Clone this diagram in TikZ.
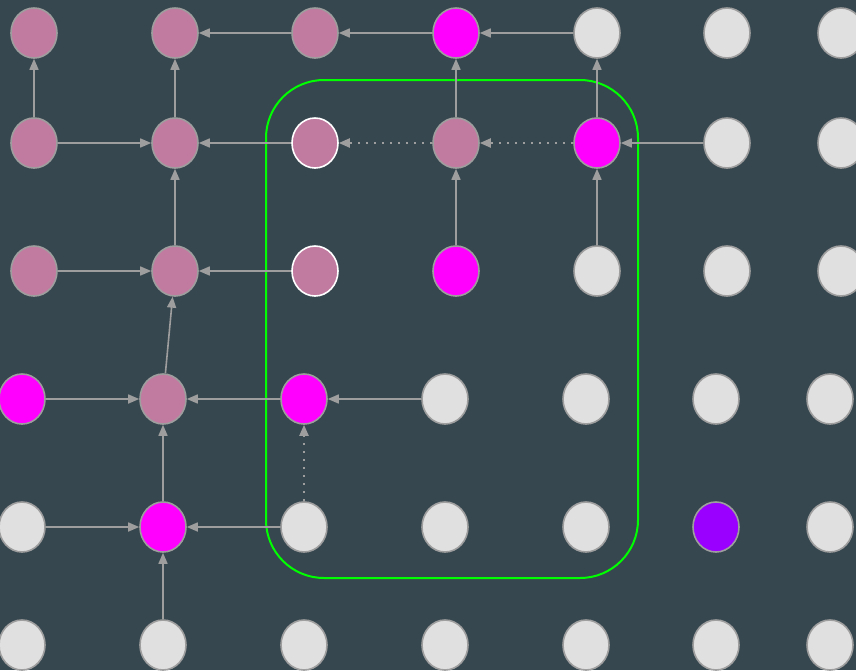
\documentclass[tikz,border=0pt]{standalone}
\usetikzlibrary{shapes.geometric,arrows.meta}
\definecolor{bg}{HTML}{37474F}
\definecolor{pinkn}{HTML}{C27BA0}
\definecolor{magn}{HTML}{FF00FF}
\definecolor{lightn}{HTML}{E0E0E0}
\definecolor{purpn}{HTML}{9900FF}
\definecolor{edgec}{HTML}{9E9E9E}
\definecolor{greenc}{HTML}{00FF00}
\tikzset{
  dot/.style={ellipse,minimum width=46pt,minimum height=50pt,inner sep=0pt,draw=edgec,line width=1.6pt},
  pk/.style={dot,fill=pinkn},
  pkw/.style={dot,fill=pinkn,draw=white},
  mg/.style={dot,fill=magn},
  lt/.style={dot,fill=lightn},
  pu/.style={dot,fill=purpn},
  conn/.style={draw=edgec,line width=1.6pt,-{Triangle[length=11pt,width=9pt]}},
  dconn/.style={conn,line width=2.2pt,dash pattern=on 2.2pt off 5.8pt},
}
\begin{document}
\begin{tikzpicture}[x=1pt,y=-1pt]
\fill[bg] (0,0) rectangle (856,670);
\useasboundingbox (0,0) rectangle (856,670);
\clip (0,0) rectangle (856,670);
% row 1
\node[pk] (a1) at (34,33) {};
\node[pk] (a2) at (175,33) {};
\node[pk] (a3) at (315,33) {};
\node[mg] (a4) at (456,33) {};
\node[lt] (a5) at (597,33) {};
\node[lt] (a6) at (727,33) {};
\node[lt] (a7) at (841,33) {};
% row 2
\node[pk] (b1) at (34,143) {};
\node[pk] (b2) at (175,143) {};
\node[pkw] (b3) at (315,143) {};
\node[pk] (b4) at (456,143) {};
\node[mg] (b5) at (597,143) {};
\node[lt] (b6) at (727,143) {};
\node[lt] (b7) at (841,143) {};
% row 3
\node[pk] (c1) at (34,271) {};
\node[pk] (c2) at (175,271) {};
\node[pkw] (c3) at (315,271) {};
\node[mg] (c4) at (456,271) {};
\node[lt] (c5) at (597,271) {};
\node[lt] (c6) at (727,271) {};
\node[lt] (c7) at (841,271) {};
% row 4
\node[mg] (d1) at (22,399) {};
\node[pk] (d2) at (163,399) {};
\node[mg] (d3) at (304,399) {};
\node[lt] (d4) at (445,399) {};
\node[lt] (d5) at (586,399) {};
\node[lt] (d6) at (716,399) {};
\node[lt] (d7) at (830,399) {};
% row 5
\node[lt] (e1) at (22,527) {};
\node[mg] (e2) at (163,527) {};
\node[lt] (e3) at (304,527) {};
\node[lt] (e4) at (445,527) {};
\node[lt] (e5) at (586,527) {};
\node[pu] (e6) at (716,527) {};
\node[lt] (e7) at (830,527) {};
% row 6
\node[lt] (f1) at (22,645) {};
\node[lt] (f2) at (163,645) {};
\node[lt] (f3) at (304,645) {};
\node[lt] (f4) at (445,645) {};
\node[lt] (f5) at (586,645) {};
\node[lt] (f6) at (716,645) {};
\node[lt] (f7) at (830,645) {};
% green frame
\draw[greenc,line width=2pt,rounded corners=58pt] (266,80) rectangle (638,578);
% connectors
\draw[conn] (a3) -- (a2);
\draw[conn] (a4) -- (a3);
\draw[conn] (a5) -- (a4);
\draw[conn] (b1) -- (a1);
\draw[conn] (b2) -- (a2);
\draw[conn] (b4) -- (a4);
\draw[conn] (b5) -- (a5);
\draw[conn] (b1) -- (b2);
\draw[conn] (b3) -- (b2);
\draw[dconn] (b4) -- (b3);
\draw[dconn] (b5) -- (b4);
\draw[conn] (b6) -- (b5);
\draw[conn] (c2) -- (b2);
\draw[conn] (c4) -- (b4);
\draw[conn] (c5) -- (b5);
\draw[conn] (c1) -- (c2);
\draw[conn] (c3) -- (c2);
\draw[conn] (d2) -- (c2);
\draw[conn] (d1) -- (d2);
\draw[conn] (d3) -- (d2);
\draw[conn] (d4) -- (d3);
\draw[dconn] (e3) -- (d3);
\draw[conn] (e2) -- (d2);
\draw[conn] (e1) -- (e2);
\draw[conn] (e3) -- (e2);
\draw[conn] (f2) -- (e2);
\end{tikzpicture}
\end{document}
